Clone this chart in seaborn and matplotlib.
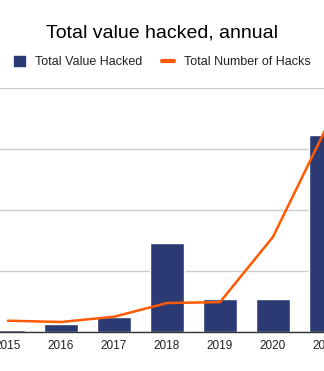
import numpy as np
import pandas as pd
import matplotlib
matplotlib.use("Agg")
import matplotlib.pyplot as plt
import seaborn as sns
from matplotlib.patches import Patch
from matplotlib.lines import Line2D

years = ["2015", "2016", "2017", "2018", "2019", "2020", "2021"]
value_hacked = [0.03, 0.13, 0.24, 1.46, 0.54, 0.54, 3.23]
num_hacks = [0.185, 0.164, 0.25, 0.475, 0.49, 1.56, 3.34]

BAR = "#2b3a73"
ORANGE = "#ff5a00"

sns.set_theme(style="white")
plt.rcParams["font.family"] = ["Liberation Sans", "DejaVu Sans"]

df = pd.DataFrame({"year": years, "value": value_hacked, "hacks": num_hacks})
df["pos"] = np.arange(len(df))

fig = plt.figure(figsize=(3.24, 3.71), dpi=100)
W, H = 324, 371
# axes extends past the figure edges (reference is a crop)
left_px = 8 - 0.6 * 53
width_px = 7.2 * 53
bottom_px = H - 332
top_px = H - 88
ax = fig.add_axes([left_px / W, bottom_px / H, width_px / W, (top_px - bottom_px) / H])

sns.barplot(data=df, x="year", y="value", order=years, color=BAR, width=0.66,
            saturation=1, ax=ax, zorder=2)
sns.lineplot(data=df, x="pos", y="hacks", color=ORANGE, linewidth=1.8, ax=ax,
             zorder=3)

ax.set_xlim(-0.6, 6.6)
ax.set_ylim(0, 4)
ax.set_yticks([0, 1, 2, 3, 4])
ax.set_yticklabels([])
ax.tick_params(axis="y", length=0)
ax.yaxis.grid(True, color="#cccccc", linewidth=1)
ax.set_axisbelow(True)
ax.set_xticks(range(len(years)))
ax.set_xticklabels(years, fontsize=8.5, color="#222222")
ax.tick_params(axis="x", length=0, pad=6)
ax.set_xlabel("")
ax.set_ylabel("")
for s in ["top", "right", "left"]:
    ax.spines[s].set_visible(False)
ax.spines["bottom"].set_color("#333333")
ax.spines["bottom"].set_linewidth(1)
ax.spines["bottom"].set_zorder(4)

fig.text(0.5, 1 - 33 / H, "Total value hacked, annual", ha="center", va="center",
         fontsize=14, color="#000000")

handles = [Patch(facecolor=BAR, edgecolor=BAR, label="Total Value Hacked"),
           Line2D([0], [0], color=ORANGE, linewidth=3, label="Total Number of Hacks")]
fig.legend(handles=handles, loc="center", bbox_to_anchor=(0.5, 1 - 62 / H), ncol=2,
           frameon=False, fontsize=9, handlelength=0.9, handleheight=0.9,
           columnspacing=1.6, handletextpad=0.8, labelcolor="#222222")

fig.savefig("out.png", dpi=100)
